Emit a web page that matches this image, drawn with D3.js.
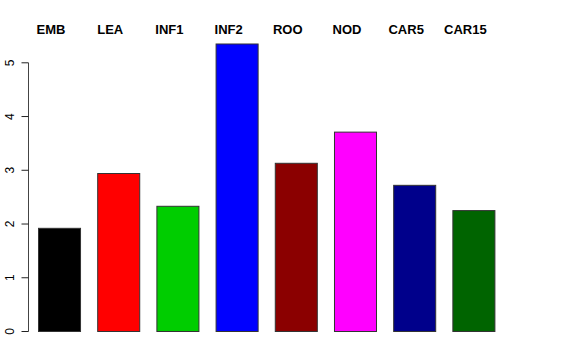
<!DOCTYPE html>
<html>
<head>
<meta charset="utf-8">
<script src="https://cdn.jsdelivr.net/npm/d3@7"></script>
<style>
  body { margin: 0; background: #fff; }
  svg { display: block; }
  text { font-family: "Liberation Sans", Arial, sans-serif; }
</style>
</head>
<body>
<div id="chart"></div>
<script>
const categories = ['EMB', 'LEA', 'INF1', 'INF2', 'ROO', 'NOD', 'CAR5', 'CAR15'];
const values = [1.92, 2.94, 2.33, 5.35, 3.13, 3.71, 2.72, 2.25];
const colors = ['#000000', '#FF0000', '#00CD00', '#0000FF', '#8B0000', '#FF00FF', '#00008B', '#006400'];
const yTicks = [0, 1, 2, 3, 4, 5];

const w = 576;
const h = 360;

const svg = d3.select('#chart')
	.append('svg')
	.attr('width', w)
	.attr('height', h);

const xScale = d3.scaleBand()
	.domain(categories)
	.range([38, 494.4])
	.paddingInner(0.29)
	.paddingOuter(0);

const yScale = d3.scaleLinear().domain([0, 5]).range([331, 62.3]);

// bars
svg.selectAll('rect.bar')
	.data(values)
	.enter()
	.append('rect')
	.attr('class', 'bar')
	.attr('x', (d, i) => xScale(categories[i]) + 0.5)
	.attr('y', d => yScale(d) + 0.5)
	.attr('width', xScale.bandwidth())
	.attr('height', d => yScale(0) - yScale(d))
	.style('fill', (d, i) => colors[i])
	.style('stroke', '#333')
	.style('stroke-width', 1);

// names above the bars
svg.selectAll('text.cat')
	.data(categories)
	.enter()
	.append('text')
	.attr('class', 'cat')
	.attr('x', d => xScale(d) + xScale.bandwidth() / 2 - 8)
	.attr('y', 34)
	.attr('text-anchor', 'middle')
	.style('font-size', '13px')
	.style('font-weight', 'bold')
	.text(d => d);

// y axis
const yAxis = d3.axisLeft(yScale)
	.tickValues(yTicks)
	.tickSize(7)
	.tickFormat(d3.format('d'));

const gy = svg.append('g')
	.attr('id', 'y-axis')
	.attr('transform', 'translate(28.5, 0)')
	.call(yAxis);

gy.select('.domain')
	.attr('d', `M0,${yScale(0) + 0.5}V${yScale(5) + 0.5}`)
	.style('stroke', '#444');
gy.selectAll('.tick line').style('stroke', '#222');
gy.selectAll('.tick text')
	.attr('x', 0)
	.attr('y', 0)
	.attr('dy', 0)
	.attr('transform', 'translate(-15,0) rotate(-90)')
	.attr('text-anchor', 'middle')
	.style('font-size', '12px')
	.style('font-family', '"Liberation Sans", Arial, sans-serif')
	.style('fill', '#000');
</script>
</body>
</html>
